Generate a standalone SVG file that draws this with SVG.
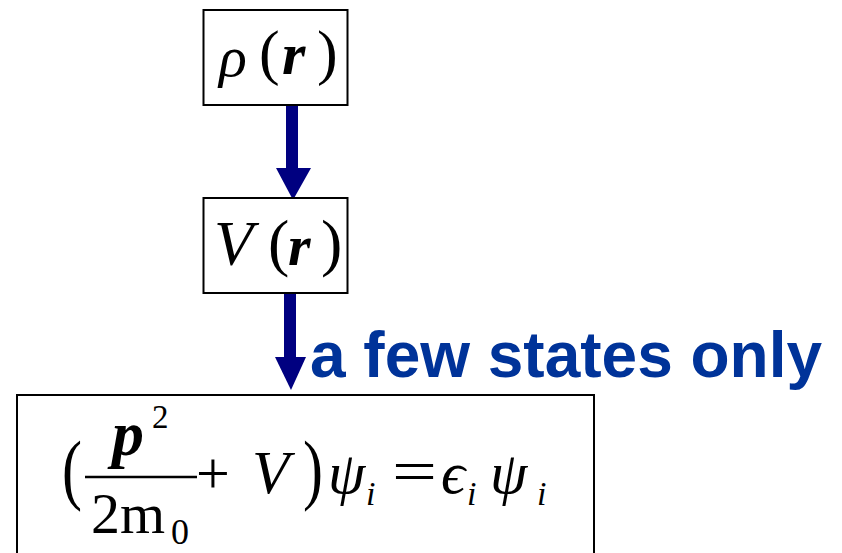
<svg xmlns="http://www.w3.org/2000/svg" width="842" height="553" viewBox="0 0 842 553">
<style>
.box{fill:#fff;stroke:#000;stroke-width:2}
.m{font-family:"Liberation Serif","DejaVu Serif",serif;fill:#000}
.it{font-style:italic}
.bi{font-style:italic;font-weight:bold}
.arrow{fill:#000080}
.lbl{font-family:"Liberation Sans",Arial,sans-serif;font-weight:bold;fill:#003399}
</style>
<rect width="842" height="553" fill="#fff"/>
<g id="connectors">
  <g id="arrow1">
    <rect class="arrow" x="286" y="105" width="12" height="64"/>
    <polygon class="arrow" points="276,168 311,168 293,200"/>
  </g>
  <g id="arrow2">
    <rect class="arrow" x="284" y="293" width="12" height="65"/>
    <polygon class="arrow" points="275,357 306,357 291,390"/>
  </g>
  <text class="lbl" x="310" y="377" font-size="64" textLength="512" lengthAdjust="spacingAndGlyphs">a few states only</text>
</g>
<g id="node-rho">
  <rect class="box" x="203.5" y="10" width="144" height="95"/>
  <text class="m it" x="219" y="76" font-size="58">ρ</text>
  <text class="m" x="259" y="73" font-size="62">(</text>
  <text class="m bi" x="282" y="74" font-size="60">r</text>
  <text class="m" x="317" y="73" font-size="62">)</text>
</g>
<g id="node-V">
  <rect class="box" x="203.5" y="198" width="144" height="95"/>
  <text class="m it" x="214" y="265" font-size="64">V</text>
  <text class="m" x="268" y="264" font-size="64">(</text>
  <text class="m bi" x="288" y="265" font-size="58">r</text>
  <text class="m" x="321" y="264" font-size="64">)</text>
</g>
<g id="node-eq">
  <rect class="box" x="17" y="395" width="577" height="170"/>
  <text class="m" transform="translate(62,495) scale(1,1.3)" font-size="60">(</text>
  <text class="m bi" x="112" y="455" font-size="64">p</text>
  <text class="m" x="152" y="428" font-size="33">2</text>
  <line x1="85" y1="477" x2="197" y2="477" stroke="#000" stroke-width="2.5"/>
  <text class="m" x="91" y="533" font-size="58">2m</text>
  <text class="m" x="171" y="544" font-size="36">0</text>
  <text class="m" x="196" y="493" font-size="60">+</text>
  <text class="m it" x="252" y="493" font-size="61">V</text>
  <text class="m" transform="translate(303,495) scale(1,1.3)" font-size="60">)</text>
  <text class="m it" x="328" y="493" font-size="60">ψ</text>
  <text class="m it" x="366" y="505" font-size="34">i</text>
  <text class="m" x="392" y="491" font-size="60" textLength="45" lengthAdjust="spacingAndGlyphs">=</text>
  <text class="m it" x="441" y="493" font-size="60">ϵ</text>
  <text class="m it" x="467" y="505" font-size="34">i</text>
  <text class="m it" x="490" y="493" font-size="60">ψ</text>
  <text class="m it" x="537" y="505" font-size="34">i</text>
</g>
</svg>
